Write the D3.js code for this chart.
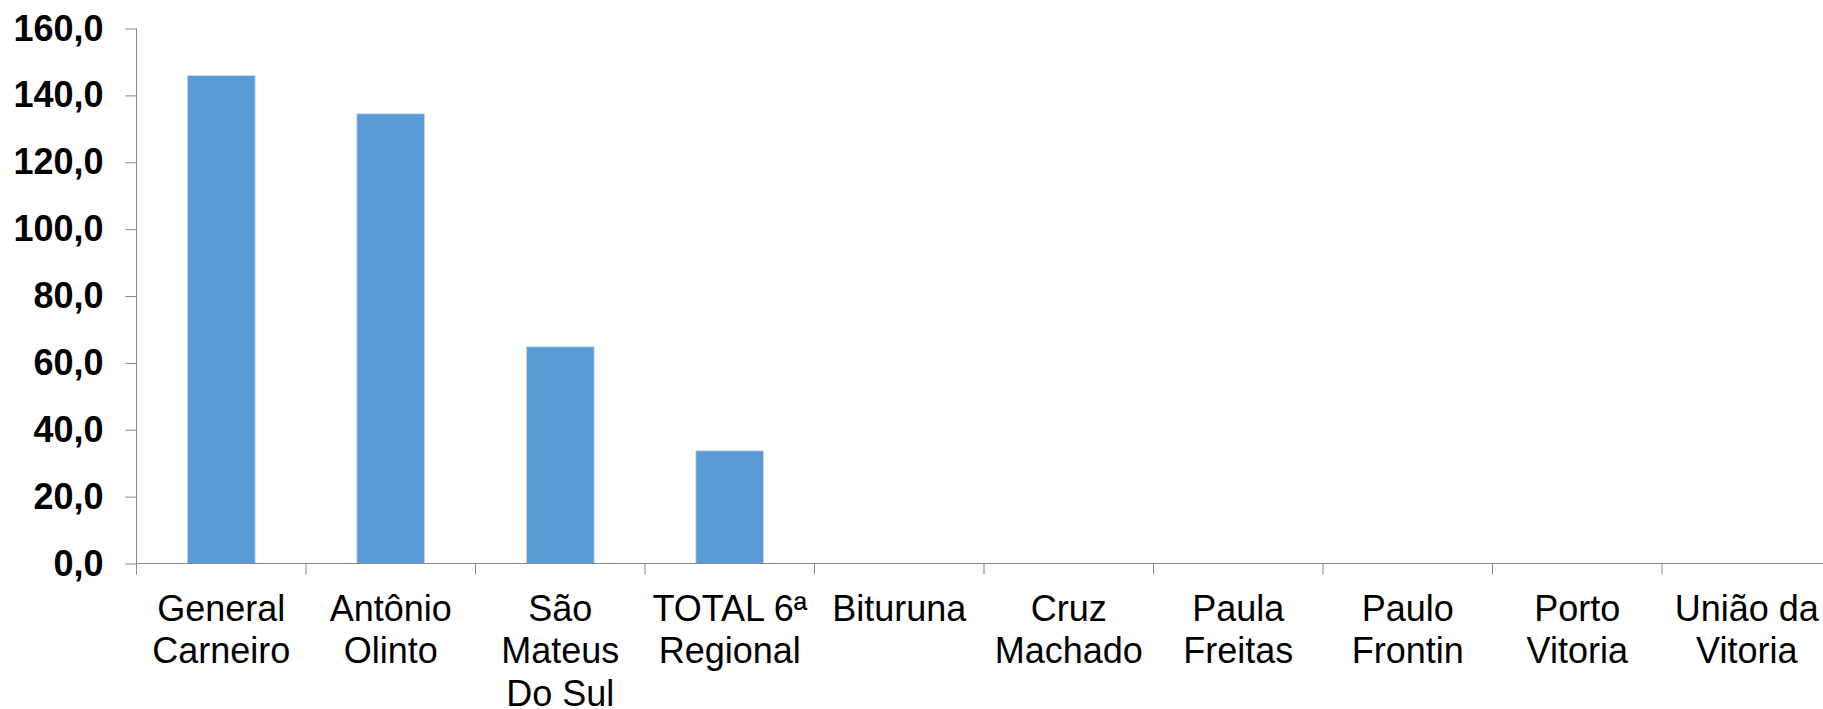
<!DOCTYPE html>
<html>
<head>
<meta charset="utf-8">
<script src="https://cdn.jsdelivr.net/npm/d3@7/dist/d3.min.js"></script>
<style>
  body { margin: 0; background: #fff; overflow: hidden; }
  svg { display: block; }
  .ylab { font: bold 36px "Liberation Sans", Arial, sans-serif; fill: #000; }
  .xlab { font: 36px "Liberation Sans", Arial, sans-serif; fill: #000; }
</style>
</head>
<body>
<div id="chart"></div>
<script>
// data
var categories = ["General\nCarneiro", "Antônio\nOlinto", "São\nMateus\nDo Sul", "TOTAL 6ª\nRegional",
                  "Bituruna", "Cruz\nMachado", "Paula\nFreitas", "Paulo\nFrontin", "Porto\nVitoria", "União da\nVitoria"];
var values = [145.9, 134.5, 64.8, 33.7, 0, 0, 0, 0, 0, 0];
var yTicks = [0, 20, 40, 60, 80, 100, 120, 140, 160];

var width = 1823, height = 709;
var plotLeft = 136.5, plotTop = 28.5, plotBottom = 563.5;
var step = 169.5;
var plotRight = plotLeft + categories.length * step;   // runs past the window edge, as in the original

var svg = d3.select("#chart").append("svg")
    .attr("width", width)
    .attr("height", height);

var x = d3.scaleBand()
    .domain(d3.range(categories.length))
    .range([plotLeft, plotRight])
    .paddingInner(0.6)
    .paddingOuter(0.3);

var y = d3.scaleLinear()
    .domain([0, 160])
    .range([plotBottom, plotTop]);

var fmt = function(d) { return d3.format(".1f")(d).replace(".", ","); };
var axisColor = "#888888";

// bars
svg.selectAll("rect.bar")
    .data(values)
  .enter().append("rect")
    .attr("class", "bar")
    .attr("x", function(d, i) { return x(i); })
    .attr("width", x.bandwidth())
    .attr("y", function(d) { return y(d); })
    .attr("height", function(d) { return y(0) - y(d); })
    .attr("fill", "#5B9BD5")
    .attr("stroke", "#c9dcf0")
    .attr("stroke-width", 0.8);

// y axis
var yAxis = svg.append("g")
    .attr("transform", "translate(" + plotLeft + ",0)")
    .call(d3.axisLeft(y).tickValues(yTicks).tickFormat(fmt).tickSize(11).tickPadding(22));
yAxis.select(".domain").attr("stroke", axisColor).attr("d", "M0," + plotTop + "V" + plotBottom);
yAxis.selectAll(".tick line").attr("stroke", axisColor);
yAxis.selectAll(".tick text").attr("class", "ylab").attr("fill", null);

// x axis line with ticks between categories
var xg = svg.append("g");
xg.append("line")
    .attr("x1", plotLeft).attr("x2", plotRight)
    .attr("y1", plotBottom).attr("y2", plotBottom)
    .attr("stroke", axisColor);
xg.selectAll("line.sep")
    .data(d3.range(categories.length + 1))
  .enter().append("line")
    .attr("class", "sep")
    .attr("x1", function(i) { return plotLeft + i * step; })
    .attr("x2", function(i) { return plotLeft + i * step; })
    .attr("y1", plotBottom).attr("y2", plotBottom + 11)
    .attr("stroke", axisColor);

// category labels
var lab = xg.selectAll("text.xlab")
    .data(categories)
  .enter().append("text")
    .attr("class", "xlab")
    .attr("text-anchor", "middle")
    .attr("transform", function(d, i) { return "translate(" + (x(i) + x.bandwidth() / 2) + "," + 621 + ")"; });
lab.selectAll("tspan")
    .data(function(d) { return d.split("\n"); })
  .enter().append("tspan")
    .attr("x", 0)
    .attr("y", function(d, j) { return j * 42.3; })
    .text(function(d) { return d; });
</script>
</body>
</html>
